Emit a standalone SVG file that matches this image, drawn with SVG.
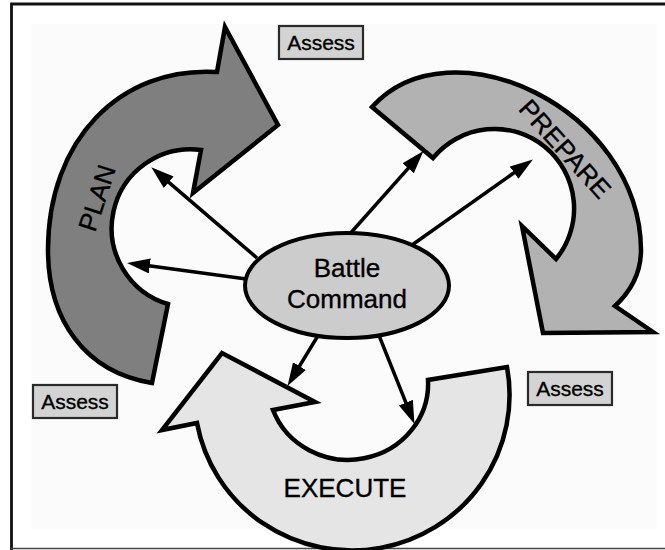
<svg xmlns="http://www.w3.org/2000/svg" width="665" height="550" viewBox="0 0 665 550">
  <style>
    .band { stroke: #000; stroke-width: 4.5; stroke-linejoin: miter; stroke-miterlimit: 10; }
    .lbl { font-family: "Liberation Sans", Arial, Helvetica, sans-serif; fill: #000; stroke: #000; stroke-width: 0.35; }
    .big { font-size: 26px; }
    .box { fill: #d3d3d3; stroke: #2a2a2a; stroke-width: 2.2; }
    .assess { font-size: 21px; text-anchor: middle; }
    .conn { stroke: #000; stroke-width: 3.5; fill: none; marker-end: url(#ah); }
  </style>
  <defs>
    <marker id="ah" markerUnits="userSpaceOnUse" markerWidth="24" markerHeight="16" refX="14" refY="7.5" orient="auto">
      <path d="M0,0 L23,7.5 L0,15 Z" fill="#000"/>
    </marker>
  </defs>

  <rect x="0" y="0" width="665" height="550" fill="#fff"/>
  <rect x="31" y="24" width="626" height="505" fill="#fbfbfb"/>
  <path d="M11.5,550 L11.5,4 L665,4" fill="none" stroke="#111" stroke-width="2.8"/>
  <line x1="11" y1="548.5" x2="665" y2="548.5" stroke="#444" stroke-width="1.6"/>

  <g id="plan">
    <path class="band" fill="#7f7f7f" d="M225,27 L278,125 L193,193 L201,150 A79,79 0 0 0 168,304 L152,383 C85,372 48,320 48,250 C48,140 120,66 217,72 Z"/>
    <text class="lbl big" text-anchor="middle" transform="translate(97,198) rotate(-72)" y="9">PLAN</text>
  </g>

  <g id="prepare">
    <path class="band" fill="#b2b2b2" d="M372,107 C450,20 640,108 641,250 C641,275 630,292 615,306 L653,332 L543,333 L522,226 L556,259 A79,79 0 0 0 433,158 Z"/>
    <text class="lbl big" text-anchor="middle" transform="translate(565,149) rotate(48)" y="9">PREPARE</text>
  </g>

  <g id="execute">
    <path class="band" fill="#e5e5e5" d="M507,367 A157,155 0 0 1 197,423 L162,430 L222,353 L315,402 L273,410 A80,76 0 0 0 428,380 Z"/>
    <text class="lbl" font-size="26" text-anchor="middle" x="345" y="497">EXECUTE</text>
  </g>

  <g id="connectors">
    <line class="conn" x1="257" y1="258" x2="158.1" y2="173.2"/>
    <line class="conn" x1="250" y1="279.5" x2="135.9" y2="264.1"/>
    <line class="conn" x1="348" y1="236" x2="417.5" y2="157.8"/>
    <line class="conn" x1="412" y1="245" x2="525.5" y2="164.6"/>
    <line class="conn" x1="319" y1="334" x2="292.2" y2="378.2"/>
    <line class="conn" x1="378" y1="333" x2="411.1" y2="415.6"/>
  </g>

  <g id="battle-command">
    <ellipse cx="347" cy="285.5" rx="102" ry="52.5" fill="#cccccc" stroke="#000" stroke-width="4"/>
    <text class="lbl" font-size="26" text-anchor="middle" x="347" y="277">Battle</text>
    <text class="lbl" font-size="26" text-anchor="middle" x="347" y="308">Command</text>
  </g>

  <g id="assess-top">
    <rect class="box" x="279" y="26" width="84" height="33"/>
    <text class="lbl assess" x="321" y="50">Assess</text>
  </g>
  <g id="assess-left">
    <rect class="box" x="33" y="385" width="84" height="33"/>
    <text class="lbl assess" x="75" y="409">Assess</text>
  </g>
  <g id="assess-right">
    <rect class="box" x="528" y="372" width="84" height="33"/>
    <text class="lbl assess" x="570" y="396">Assess</text>
  </g>
</svg>
